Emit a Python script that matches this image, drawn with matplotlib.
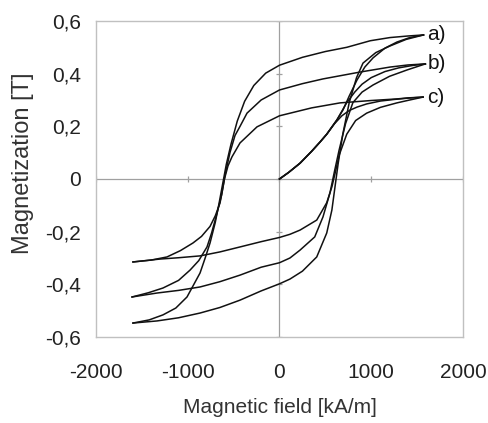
import matplotlib
matplotlib.use("Agg")
import matplotlib.pyplot as plt

plt.rcParams['font.family'] = ['Liberation Sans', 'DejaVu Sans']

# ---- data (H in kA/m, M in T) ----
# a) upper (descending) branch, from +tip to -tip
a_up_H = [1570, 1400, 1204, 990, 733, 500, 250, 0, -150, -280, -380, -460, -530, -580, -620, -660, -700, -757, -810, -866, -1008, -1130, -1270, -1420, -1597]
a_up_M = [0.547, 0.543, 0.537, 0.525, 0.500, 0.484, 0.462, 0.432, 0.402, 0.355, 0.295, 0.220, 0.130, 0.055, -0.020, -0.095, -0.165, -0.243, -0.300, -0.357, -0.448, -0.490, -0.516, -0.535, -0.547]
# a) lower (ascending) branch, from -tip to +tip
a_lo_H = [-1597, -1335, -1100, -866, -650, -430, -200, 0, 114, 250, 406, 515, 571, 605, 640, 690, 760, 840, 910, 1050, 1204, 1380, 1570]
a_lo_M = [-0.547, -0.539, -0.527, -0.509, -0.488, -0.460, -0.425, -0.398, -0.380, -0.350, -0.296, -0.205, -0.118, -0.030, 0.060, 0.170, 0.290, 0.385, 0.440, 0.480, 0.505, 0.530, 0.547]
# a) initial curve
a_in_H = [0, 100, 224, 350, 441, 515, 627, 692, 760, 845, 930, 1020, 1150, 1280, 1420, 1570]
a_in_M = [0.000, 0.025, 0.060, 0.105, 0.140, 0.170, 0.225, 0.262, 0.315, 0.376, 0.425, 0.460, 0.497, 0.520, 0.537, 0.547]

b_up_H = [1590, 1400, 1204, 877, 474, 250, 0, -200, -354, -430, -485, -540, -590, -630, -681, -740, -790, -880, -975, -1100, -1270, -1430, -1607]
b_up_M = [0.437, 0.433, 0.425, 0.406, 0.380, 0.362, 0.338, 0.300, 0.250, 0.200, 0.165, 0.100, 0.020, -0.060, -0.130, -0.205, -0.258, -0.310, -0.346, -0.385, -0.414, -0.432, -0.448]
b_lo_H = [-1607, -1335, -1100, -866, -650, -430, -200, 0, 114, 224, 384, 474, 550, 600, 650, 720, 800, 900, 1020, 1200, 1390, 1590]
b_lo_M = [-0.448, -0.433, -0.423, -0.410, -0.390, -0.365, -0.335, -0.318, -0.300, -0.270, -0.220, -0.144, -0.053, 0.030, 0.110, 0.210, 0.290, 0.330, 0.357, 0.390, 0.414, 0.437]
b_in_H = [0, 100, 224, 350, 441, 515, 627, 733, 820, 900, 1000, 1150, 1300, 1450, 1590]
b_in_M = [0.000, 0.025, 0.060, 0.105, 0.140, 0.170, 0.225, 0.290, 0.330, 0.360, 0.385, 0.408, 0.422, 0.431, 0.437]

c_up_H = [1565, 1400, 1280, 1000, 660, 350, 0, -245, -430, -518, -561, -600, -648, -700, -757, -850, -943, -1080, -1226, -1400, -1597]
c_up_M = [0.311, 0.308, 0.304, 0.298, 0.289, 0.270, 0.240, 0.198, 0.137, 0.084, 0.050, 0.000, -0.091, -0.140, -0.180, -0.218, -0.243, -0.272, -0.296, -0.308, -0.315]
c_lo_H = [-1597, -1302, -1100, -866, -650, -430, -200, 0, 114, 224, 406, 515, 571, 605, 650, 733, 830, 950, 1100, 1280, 1420, 1565]
c_lo_M = [-0.315, -0.304, -0.299, -0.292, -0.277, -0.258, -0.238, -0.222, -0.210, -0.194, -0.156, -0.090, -0.030, 0.020, 0.090, 0.170, 0.222, 0.250, 0.272, 0.289, 0.300, 0.311]
c_in_H = [0, 100, 224, 350, 441, 515, 600, 680, 760, 845, 950, 1100, 1250, 1400, 1565]
c_in_M = [0.000, 0.025, 0.060, 0.105, 0.140, 0.170, 0.210, 0.240, 0.260, 0.273, 0.285, 0.296, 0.302, 0.307, 0.311]

labels = ['a)', 'b)', 'c)']
label_M = [0.547, 0.437, 0.311]

x_ticks = [-2000, -1000, 0, 1000, 2000]
y_ticks = [-0.6, -0.4, -0.2, 0.0, 0.2, 0.4, 0.6]
y_tick_labels = ['-0,6', '-0,4', '-0,2', '0', '0,2', '0,4', '0,6']

# ---- figure ----
fig = plt.figure(figsize=(4.89, 4.23), dpi=100)
ax = fig.add_axes([0.1963, 0.2033, 0.7505, 0.7471])
ax.set_xlim(-2000, 2000)
ax.set_ylim(-0.6, 0.6)

ax.axhline(0, color='#a0a0a0', lw=0.9, zorder=1)
ax.axvline(0, color='#a0a0a0', lw=0.9, zorder=1)
# small tick marks on the zero axes
ax.plot(x_ticks, [0] * len(x_ticks), ls='none', marker='|', ms=5, color='#a0a0a0', mew=0.9, zorder=1)
ax.plot([0] * len(y_ticks), y_ticks, ls='none', marker='_', ms=5, color='#a0a0a0', mew=0.9, zorder=1)

for H, M in [(a_up_H, a_up_M), (a_lo_H, a_lo_M), (a_in_H, a_in_M),
             (b_up_H, b_up_M), (b_lo_H, b_lo_M), (b_in_H, b_in_M),
             (c_up_H, c_up_M), (c_lo_H, c_lo_M), (c_in_H, c_in_M)]:
    ax.plot(H, M, color='#111111', lw=1.1, solid_joinstyle='round', zorder=3)

for lab, m in zip(labels, label_M):
    ax.text(1610, m, lab, fontsize=15, va='center', ha='left', color='#111111')

for s in ax.spines.values():
    s.set_color('#c0c0c0')
    s.set_linewidth(1.0)

ax.set_xticks(x_ticks)
ax.set_xticklabels([str(v) for v in x_ticks])
ax.set_yticks(y_ticks)
ax.set_yticklabels(y_tick_labels)
ax.tick_params(axis='x', length=0, pad=19, labelsize=15, colors='#222222')
ax.tick_params(axis='y', length=0, pad=11, labelsize=15, colors='#222222')

ax.set_xlabel('Magnetic field [kA/m]', fontsize=15, color='#333333', labelpad=11)
ax.set_ylabel('Magnetization [T]', fontsize=17, color='#333333')
ax.yaxis.set_label_coords(-0.17, 0.55)

fig.savefig('out.png', dpi=100, facecolor='white')
